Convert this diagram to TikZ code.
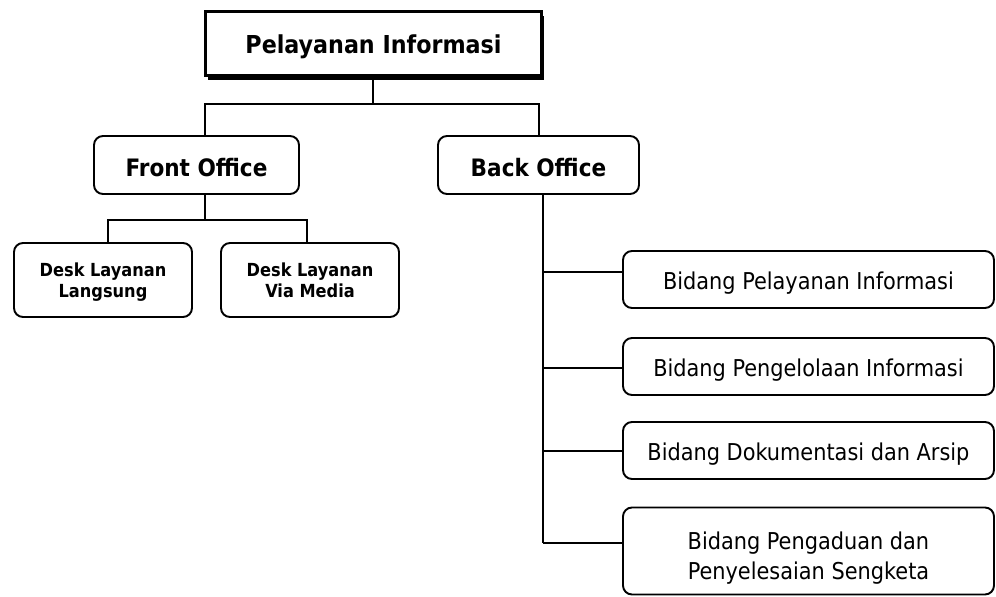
\documentclass[tikz,border=0pt]{standalone}
\usepackage{fontspec}
\setmainfont{DejaVu Sans Condensed}
\usetikzlibrary{calc,shadows}
\newcommand{\lowtxt}[2]{\raisebox{-#1}[\height][\depth]{#2}}
\begin{document}
\begin{tikzpicture}[x=1pt,y=-1pt,
  box/.style={draw=black, line width=1.9pt, rounded corners=9pt, align=center, inner sep=0pt, fill=white},
  conn/.style={draw=black, line width=1.5pt},
  tfont/.style={font=\fontsize{24.7}{28}\selectfont\bfseries},
  mfont/.style={font=\fontsize{24}{28}\selectfont\bfseries},
  sfont/.style={font=\fontsize{18}{21}\selectfont\bfseries},
  rfont/.style={font=\fontsize{23.2}{30}\selectfont}]
\useasboundingbox (0,0) rectangle (996,597);
% nodes
\node[draw=black, fill=white, line width=3.5pt, inner sep=0pt, minimum width=336pt, minimum height=64pt, tfont,
  drop shadow={shadow xshift=2.5pt, shadow yshift=-4pt, fill=black, opacity=1}] (top) at (373.5,43.5) {\lowtxt{3pt}{Pelayanan Informasi}};
\node[box, minimum width=205pt, minimum height=58pt, mfont] (fo) at (196.5,165) {\lowtxt{2.5pt}{Front Office}};
\node[box, minimum width=201pt, minimum height=58pt, mfont] (bo) at (538.5,165) {\lowtxt{2.5pt}{Back Office}};
\node[box, minimum width=178pt, minimum height=74pt, sfont] (dl) at (103,280) {\lowtxt{2.5pt}{\begin{tabular}{@{}c@{}}Desk Layanan\\Langsung\end{tabular}}};
\node[box, minimum width=178pt, minimum height=74pt, sfont] (dv) at (310,280) {\lowtxt{2.5pt}{\begin{tabular}{@{}c@{}}Desk Layanan\\Via Media\end{tabular}}};
\node[box, minimum width=371pt, minimum height=57pt, rfont] (b1) at (808.5,279.5) {\lowtxt{4pt}{Bidang Pelayanan Informasi}};
\node[box, minimum width=371pt, minimum height=57pt, rfont] (b2) at (808.5,366.5) {\lowtxt{4pt}{Bidang Pengelolaan Informasi}};
\node[box, minimum width=371pt, minimum height=57pt, rfont] (b3) at (808.5,450.5) {\lowtxt{4pt}{Bidang Dokumentasi dan Arsip}};
\node[box, minimum width=371pt, minimum height=87pt, rfont] (b4) at (808.5,551) {\lowtxt{7pt}{\begin{tabular}{@{}c@{}}Bidang Pengaduan dan\\Penyelesaian Sengketa\end{tabular}}};
% junction coordinates
\coordinate (j1) at (373,104);
\coordinate (fin) at (205,135);
\coordinate (bin) at (539,135);
\coordinate (fout) at (205,195);
\coordinate (j2) at (205,220);
\coordinate (dlin) at (108,242);
\coordinate (dvin) at (307,242);
\coordinate (bout) at (543,195);
\coordinate (e1) at (543,272);
\coordinate (e2) at (543,368);
\coordinate (e3) at (543,451);
\coordinate (e4) at (543,543);
% connectors
\draw[conn] (top.south -| j1) -- (j1);
\draw[conn] (fin) |- (j1) -| (bin);
\draw[conn] (fout) -- (j2);
\draw[conn] (dlin) |- (j2) -| (dvin);
\draw[conn] (bout) -- (e4);
\draw[conn] (e1) -- (e1 -| b1.west);
\draw[conn] (e2) -- (e2 -| b2.west);
\draw[conn] (e3) -- (e3 -| b3.west);
\draw[conn] (e4) -- (e4 -| b4.west);
\end{tikzpicture}
\end{document}
